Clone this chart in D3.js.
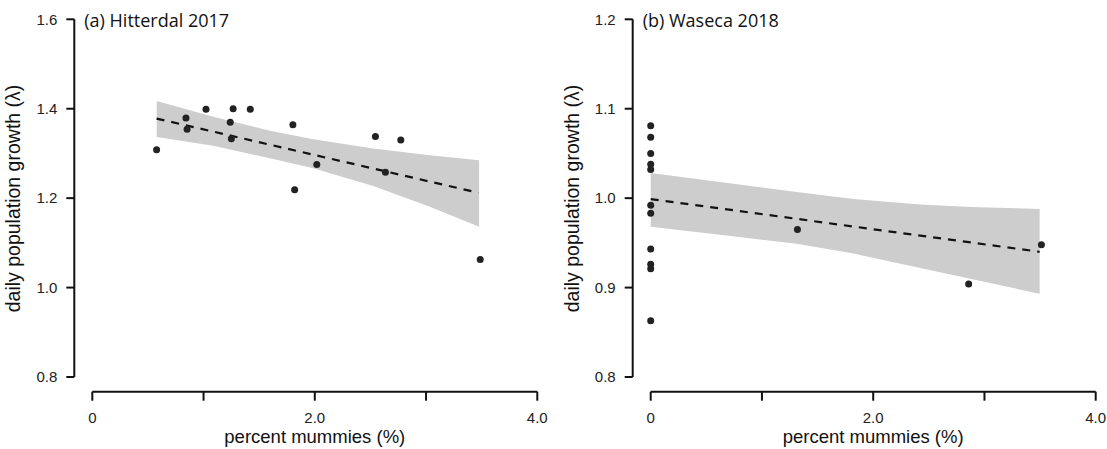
<!DOCTYPE html>
<html>
<head>
<meta charset="utf-8">
<script src="https://cdn.jsdelivr.net/npm/d3@7"></script>
<style>
  body { margin: 0; background: #fff; }
  svg { display: block; }
  .tick-label { font-family: 'Liberation Sans', Arial, sans-serif; font-size: 15px; fill: #222; }
  .axis-title { font-family: 'Liberation Sans', Arial, sans-serif; font-size: 18.5px; fill: #111; }
  .panel-title { font-family: 'Open Sans', sans-serif; font-size: 18px; fill: #111; }
</style>
</head>
<body>
<script>
// (a) Hitterdal 2017
var hitX = [0.578, 0.842, 0.852, 1.022, 1.240, 1.266, 1.250, 1.420, 1.803, 1.819, 2.018, 2.545, 2.635, 2.773, 3.487];
var hitY = [1.308, 1.379, 1.354, 1.399, 1.370, 1.400, 1.333, 1.399, 1.364, 1.219, 1.275, 1.338, 1.258, 1.330, 1.063];
var hitFitX = [0.578, 3.470];
var hitFitY = [1.378, 1.212];
var hitBandX = [0.579, 1.087, 1.597, 1.986, 2.525, 3.034, 3.477];
var hitBandHi = [1.417, 1.382, 1.351, 1.332, 1.311, 1.296, 1.285];
var hitBandLo = [1.337, 1.317, 1.289, 1.267, 1.227, 1.181, 1.136];
var hitYTicks = [0.8, 1.0, 1.2, 1.4, 1.6];

// (b) Waseca 2018
var wasX = [0, 0, 0, 0, 0, 0, 0, 0, 0, 0, 0, 1.319, 2.858, 3.512];
var wasY = [1.081, 1.068, 1.050, 1.038, 1.032, 0.992, 0.983, 0.943, 0.926, 0.921, 0.863, 0.965, 0.904, 0.948];
var wasFitX = [0, 3.496];
var wasFitY = [0.999, 0.940];
var wasBandX = [0, 0.624, 1.313, 1.823, 2.423, 2.873, 3.496];
var wasBandHi = [1.028, 1.018, 1.007, 0.999, 0.993, 0.990, 0.988];
var wasBandLo = [0.968, 0.959, 0.949, 0.938, 0.922, 0.910, 0.893];
var wasYTicks = [0.8, 0.9, 1.0, 1.1, 1.2];

var xTicks = [0, 1, 2, 3, 4];
var xTickLabels = ['0', '', '2.0', '', '4.0'];

var width = 1107, height = 449;

var svg = d3.select('body').append('svg')
  .attr('width', width)
  .attr('height', height);

function drawPanel(opt) {
  var x = d3.scaleLinear().domain([0, 4]).range([opt.left, opt.left + 445]);
  var y = d3.scaleLinear().domain(opt.yDomain).range([377, 19.3]);
  var g = svg.append('g');
  var axisX = opt.left - 18;   // y axis line sits left of x=0
  var axisY = 391.7;           // x axis line sits below the y range

  // confidence band
  var band = opt.bandX.map(function (d, i) { return { x: d, lo: opt.bandLo[i], hi: opt.bandHi[i] }; });
  g.append('path')
    .datum(band)
    .attr('fill', '#cdcdcd')
    .attr('d', d3.area()
      .x(function (d) { return x(d.x); })
      .y0(function (d) { return y(d.lo); })
      .y1(function (d) { return y(d.hi); }));

  // fitted line
  g.append('path')
    .datum(opt.fitX.map(function (d, i) { return [d, opt.fitY[i]]; }))
    .attr('fill', 'none')
    .attr('stroke', '#111')
    .attr('stroke-width', 2.2)
    .attr('stroke-dasharray', '8,7')
    .attr('d', d3.line()
      .x(function (d) { return x(d[0]); })
      .y(function (d) { return y(d[1]); }));

  // points
  g.selectAll('.pt')
    .data(opt.xs.map(function (d, i) { return [d, opt.ys[i]]; }))
    .enter()
    .append('circle')
    .attr('class', 'pt')
    .attr('cx', function (d) { return x(d[0]); })
    .attr('cy', function (d) { return y(d[1]); })
    .attr('r', 3.5)
    .attr('fill', '#222');

  // y axis
  g.append('line')
    .attr('x1', axisX).attr('x2', axisX)
    .attr('y1', y(opt.yTicks[0])).attr('y2', y(opt.yTicks[opt.yTicks.length - 1]))
    .attr('stroke', '#111').attr('stroke-width', 2);
  g.selectAll('.ytick')
    .data(opt.yTicks)
    .enter()
    .append('line')
    .attr('x1', axisX - 8).attr('x2', axisX)
    .attr('y1', function (d) { return y(d); }).attr('y2', function (d) { return y(d); })
    .attr('stroke', '#111').attr('stroke-width', 2);
  g.selectAll('.ylab')
    .data(opt.yTicks)
    .enter()
    .append('text')
    .attr('class', 'tick-label')
    .attr('x', axisX - 17)
    .attr('y', function (d) { return y(d); })
    .attr('dy', '0.35em')
    .attr('text-anchor', 'end')
    .text(function (d) { return d.toFixed(1); });

  // x axis
  g.append('line')
    .attr('x1', x(0)).attr('x2', x(4))
    .attr('y1', axisY).attr('y2', axisY)
    .attr('stroke', '#111').attr('stroke-width', 2);
  g.selectAll('.xtick')
    .data(xTicks)
    .enter()
    .append('line')
    .attr('x1', function (d) { return x(d); }).attr('x2', function (d) { return x(d); })
    .attr('y1', axisY).attr('y2', axisY + 9)
    .attr('stroke', '#111').attr('stroke-width', 2);
  g.selectAll('.xlab')
    .data(xTicks)
    .enter()
    .append('text')
    .attr('class', 'tick-label')
    .attr('x', function (d) { return x(d); })
    .attr('y', 418)
    .attr('dy', '0.35em')
    .attr('text-anchor', 'middle')
    .text(function (d, i) { return xTickLabels[i]; });

  // titles
  g.append('text')
    .attr('class', 'axis-title')
    .attr('x', x(2))
    .attr('y', 437)
    .attr('dy', '0.35em')
    .attr('text-anchor', 'middle')
    .text('percent mummies (%)');

  g.append('text')
    .attr('class', 'axis-title')
    .attr('transform', 'translate(' + (opt.left - 79) + ',198.5) rotate(-90)')
    .attr('dy', '0.35em')
    .attr('text-anchor', 'middle')
    .style('font-size', '19.5px')
    .text('daily population growth (λ)');

  g.append('text')
    .attr('class', 'panel-title')
    .attr('x', opt.left - 8)
    .attr('y', 21)
    .attr('dy', '0.35em')
    .text(opt.title);
}

drawPanel({
  left: 92.3, yDomain: [0.8, 1.6], yTicks: hitYTicks, title: '(a) Hitterdal 2017',
  xs: hitX, ys: hitY, fitX: hitFitX, fitY: hitFitY,
  bandX: hitBandX, bandHi: hitBandHi, bandLo: hitBandLo
});

drawPanel({
  left: 650.7, yDomain: [0.8, 1.2], yTicks: wasYTicks, title: '(b) Waseca 2018',
  xs: wasX, ys: wasY, fitX: wasFitX, fitY: wasFitY,
  bandX: wasBandX, bandHi: wasBandHi, bandLo: wasBandLo
});
</script>
</body>
</html>
